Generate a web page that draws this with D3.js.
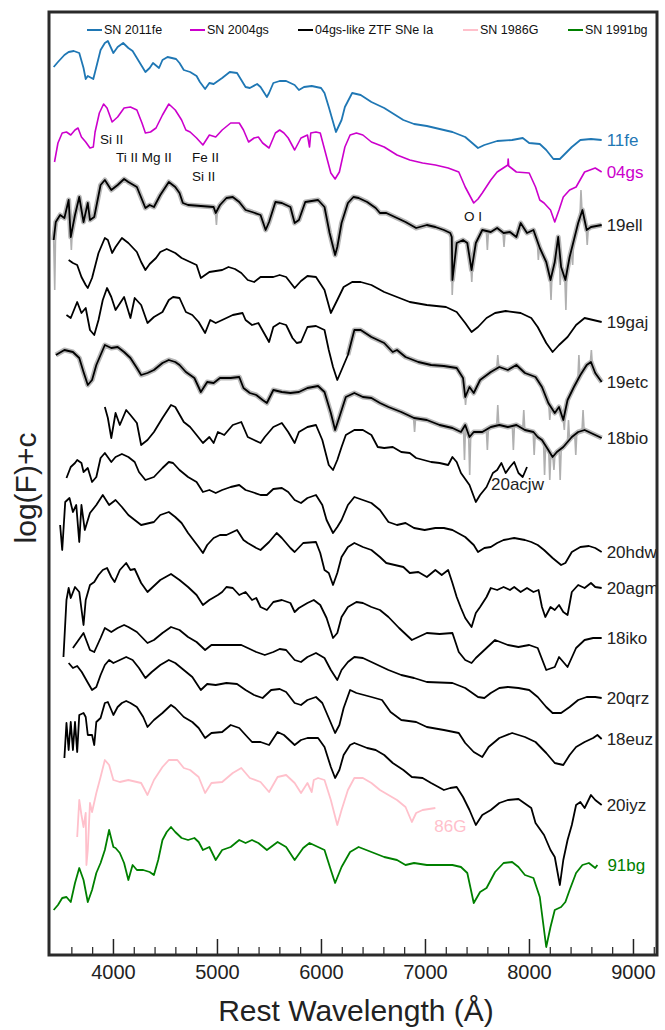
<!DOCTYPE html>
<html>
<head>
<meta charset="utf-8">
<script src="https://cdn.jsdelivr.net/npm/d3@7"></script>
<style>
  body { margin: 0; background: #fff; }
  text { font-family: "Liberation Sans", Arial, sans-serif; }
</style>
</head>
<body>
<svg id="chart" width="665" height="1030"></svg>
<script>
// spectra: [rest wavelength (A), log(F)+c]
const sn2011fe = [[3430,88.8],[3471,89.3],[3533,90.0],[3574,90.3],[3623,90.4],[3676,90.2],[3717,88.7],[3738,87.6],[3758,87.9],[3811,87.6],[3840,88.8],[3881,90.5],[3922,91.2],[3951,91.4],[4004,90.2],[4045,90.8],[4098,91.2],[4148,90.7],[4189,90.4],[4271,89.0],[4312,88.3],[4353,88.7],[4385,89.2],[4443,88.7],[4476,89.5],[4525,89.8],[4607,89.6],[4640,89.2],[4681,88.5],[4742,88.3],[4804,87.9],[4836,87.3],[4886,86.6],[4927,87.2],[4968,87.1],[5050,87.7],[5123,88.3],[5193,88.2],[5234,87.5],[5275,86.8],[5316,86.7],[5386,87.1],[5419,86.8],[5480,85.8],[5501,86.2],[5542,87.2],[5603,87.4],[5665,87.4],[5747,87.0],[5788,86.5],[5837,86.8],[5911,86.9],[6001,86.7],[6034,86.2],[6075,84.8],[6144,82.3],[6198,83.5],[6230,84.8],[6300,86.2],[6382,86.0],[6485,85.3],[6608,84.7],[6792,83.5],[6895,83.1],[7018,82.9],[7264,82.3],[7387,81.8],[7510,80.7],[7571,81.0],[7694,81.4],[7838,81.5],[7940,81.7],[8002,81.2],[8104,81.1],[8166,80.5],[8235,79.6],[8297,79.6],[8412,80.8],[8494,81.5],[8596,81.6],[8699,81.5]];

const sn2004gs = [[3438,79.3],[3471,81.2],[3512,82.2],[3553,82.3],[3594,82.0],[3635,82.5],[3664,82.7],[3697,81.8],[3738,81.3],[3779,80.7],[3811,80.8],[3828,82.3],[3869,84.2],[3910,85.1],[3943,84.7],[3992,83.3],[4045,83.8],[4107,84.7],[4168,84.8],[4230,84.5],[4279,83.2],[4312,82.2],[4361,82.3],[4414,82.7],[4476,84.0],[4537,85.1],[4599,84.5],[4660,83.5],[4701,82.5],[4742,82.3],[4804,81.7],[4865,81.0],[4927,82.0],[4988,81.8],[5050,82.5],[5132,83.2],[5214,83.2],[5255,82.5],[5304,81.3],[5357,81.7],[5398,81.8],[5439,81.2],[5501,80.7],[5562,82.2],[5603,82.5],[5644,82.2],[5685,81.7],[5747,80.5],[5808,81.7],[5870,82.0],[5890,80.8],[5902,82.2],[5952,82.3],[5993,82.2],[6054,79.8],[6095,78.2],[6136,77.6],[6177,78.3],[6230,80.8],[6280,82.0],[6341,82.2],[6403,82.0],[6485,81.3],[6608,80.8],[6731,80.0],[6854,79.5],[6977,79.2],[7100,79.0],[7223,78.7],[7325,78.3],[7387,76.8],[7469,75.2],[7510,75.6],[7551,76.2],[7633,77.5],[7694,78.3],[7797,79.0],[7800,79.6],[7805,78.9],[7879,78.3],[8002,78.2],[8063,76.8],[8104,75.5],[8145,75.2],[8207,74.5],[8248,73.3],[8289,74.5],[8330,75.8],[8391,76.5],[8453,76.8],[8535,78.3],[8637,78.7],[8699,78.3]];

const ztf19ell = [[3430,71.5],[3450,73.3],[3492,74.0],[3533,73.7],[3574,75.5],[3594,71.8],[3635,74.0],[3676,75.8],[3717,73.3],[3758,75.2],[3779,73.5],[3820,73.8],[3881,77.0],[3922,77.5],[3984,76.5],[4045,77.0],[4107,77.6],[4148,77.3],[4230,76.8],[4312,74.7],[4353,75.0],[4394,74.8],[4455,76.0],[4537,77.3],[4599,76.8],[4640,76.2],[4672,75.2],[4722,75.0],[4845,74.9],[4968,74.8],[4988,74.2],[5029,75.0],[5091,75.7],[5152,75.8],[5214,75.3],[5275,74.5],[5337,74.3],[5419,74.0],[5468,72.5],[5501,73.3],[5562,75.3],[5624,75.2],[5706,74.8],[5747,73.2],[5788,73.5],[5849,75.3],[5972,75.5],[6034,74.8],[6083,72.2],[6136,70.0],[6157,70.8],[6198,73.2],[6259,75.2],[6312,75.8],[6362,75.7],[6444,75.3],[6526,74.7],[6567,74.2],[6628,74.2],[6731,73.7],[6813,73.3],[6915,72.7],[7018,73.0],[7100,72.8],[7182,72.5],[7243,72.2],[7258,71.8],[7264,67.5],[7305,71.2],[7366,71.5],[7407,71.2],[7448,68.5],[7489,71.2],[7551,72.5],[7633,72.3],[7694,72.7],[7756,72.2],[7817,72.3],[7879,71.8],[7920,73.2],[7981,72.2],[8043,72.5],[8104,70.7],[8166,69.3],[8207,67.5],[8248,69.3],[8281,71.8],[8309,68.8],[8350,67.5],[8391,69.8],[8432,71.5],[8473,73.2],[8514,74.5],[8555,72.5],[8596,72.8],[8699,73.0]];
// raw-spectrum spikes seen in grey behind the smoothed curve
const ztf19ellSpikes = [[3440,66.5],[3600,70.5],[4995,73.0],[7262,66.0],[7450,67.3],[7600,70.5],[7760,70.8],[8090,69.5],[8212,65.5],[8300,67.0],[8355,64.5],[8420,69.0],[8500,76.5],[8560,71.0]];

const ztf19gaj = [[3574,69.5],[3615,69.2],[3656,69.0],[3697,67.8],[3738,67.0],[3758,66.7],[3799,67.7],[3861,70.2],[3922,71.7],[3951,71.5],[3992,70.2],[4025,70.8],[4086,71.7],[4148,71.2],[4230,70.3],[4271,69.3],[4312,68.5],[4353,69.1],[4414,69.7],[4455,70.3],[4517,70.6],[4599,70.2],[4660,69.7],[4742,69.3],[4804,69.0],[4845,67.7],[4927,68.3],[5050,68.5],[5111,68.8],[5173,68.6],[5234,68.2],[5296,67.5],[5357,67.3],[5419,67.8],[5542,67.8],[5603,68.0],[5665,67.8],[5747,66.7],[5808,67.4],[5870,67.9],[5952,67.8],[6034,66.5],[6095,64.2],[6157,65.5],[6218,66.8],[6300,67.3],[6382,67.3],[6485,67.0],[6608,66.3],[6731,65.8],[6854,65.3],[7018,65.0],[7202,64.8],[7305,64.3],[7387,63.2],[7448,62.3],[7510,62.8],[7592,63.7],[7674,64.2],[7776,64.4],[7920,64.2],[8022,63.7],[8084,62.8],[8166,61.2],[8227,60.3],[8289,61.0],[8371,61.8],[8453,63.0],[8535,63.7],[8617,63.5],[8699,63.3]];

const ztf19etc = [[3553,64.0],[3594,63.7],[3656,65.3],[3697,64.2],[3738,64.7],[3779,62.5],[3820,62.0],[3861,63.5],[3902,65.5],[3943,66.7],[3984,65.8],[4025,64.5],[4107,65.8],[4168,63.7],[4209,65.7],[4271,65.0],[4332,63.2],[4394,63.8],[4476,64.3],[4537,65.5],[4578,65.8],[4640,65.7],[4701,64.3],[4763,64.0],[4824,63.3],[4886,62.2],[4935,63.5],[4988,63.2],[5050,63.5],[5152,64.0],[5246,64.2],[5275,63.5],[5337,63.0],[5398,63.2],[5501,61.3],[5542,62.8],[5603,63.2],[5665,63.0],[5726,61.7],[5767,61.2],[5808,61.3],[5870,62.8],[5952,62.9],[6034,62.5],[6075,60.5],[6116,58.8],[6157,57.5],[6198,58.5],[6259,60.0],[6321,62.5],[6382,62.5],[6485,61.8],[6608,61.2],[6690,60.3],[6731,60.5],[6813,59.8],[6936,59.3],[7059,59.0],[7182,58.9],[7305,58.7],[7366,57.7],[7387,55.8],[7428,56.8],[7469,56.2],[7530,57.5],[7633,58.3],[7715,58.8],[7797,58.5],[7879,59.0],[7961,58.2],[8063,57.8],[8125,56.8],[8186,55.2],[8248,54.2],[8289,54.8],[8330,53.5],[8371,55.5],[8432,56.8],[8494,58.0],[8555,59.0],[8596,59.3],[8637,58.2],[8699,57.3]];
const ztf19etcSpikes = [[7390,55.0],[7700,60.0],[8200,53.5],[8340,52.5],[8480,60.0],[8600,60.5]];

const ztf18bio = [[3451,60.0],[3533,60.5],[3615,60.3],[3676,59.7],[3717,58.3],[3758,57.0],[3799,57.5],[3840,59.0],[3922,61.0],[3984,60.7],[4045,60.8],[4107,60.3],[4168,59.7],[4230,58.7],[4271,58.0],[4332,58.2],[4394,58.5],[4476,59.2],[4537,59.5],[4599,59.3],[4640,59.0],[4701,58.3],[4783,57.7],[4845,56.3],[4906,57.3],[4968,57.2],[5029,57.7],[5132,57.7],[5214,57.8],[5255,56.7],[5316,56.2],[5378,56.0],[5439,55.5],[5480,55.2],[5542,56.5],[5624,56.3],[5706,56.2],[5788,56.3],[5870,56.7],[5972,56.9],[6034,56.3],[6095,54.2],[6136,52.5],[6177,53.8],[6239,55.8],[6321,56.2],[6403,55.8],[6485,55.7],[6567,55.2],[6649,54.8],[6772,54.3],[6895,53.7],[7018,53.5],[7141,53.0],[7264,52.7],[7346,52.3],[7387,53.0],[7428,51.8],[7469,52.3],[7551,52.3],[7633,52.8],[7715,53.0],[7797,52.8],[7879,53.0],[7961,52.5],[8043,52.3],[8084,51.8],[8125,51.5],[8186,50.5],[8227,49.8],[8268,50.3],[8330,50.8],[8412,51.8],[8473,52.3],[8535,52.5],[8596,52.2],[8699,51.7]];
const ztf18bioSpikes = [[6900,52.3],[7380,49.5],[7430,48.0],[7600,50.5],[7700,55.0],[7850,50.5],[7950,54.5],[8050,50.0],[8150,48.0],[8200,47.5],[8240,48.5],[8300,47.5],[8380,53.5],[8450,50.0],[8520,54.5]];

const ztf20acjw = [[3922,54.8],[3951,53.7],[3984,51.7],[4025,54.2],[4066,53.0],[4127,54.5],[4168,54.0],[4230,53.2],[4271,51.0],[4332,51.5],[4394,52.3],[4476,53.7],[4558,55.0],[4599,54.8],[4681,53.3],[4742,52.8],[4804,52.0],[4865,51.2],[4927,51.8],[4968,51.2],[5009,52.3],[5070,52.0],[5152,53.0],[5234,53.3],[5296,51.8],[5357,51.5],[5419,51.2],[5460,51.8],[5542,52.8],[5624,53.2],[5685,52.3],[5747,51.2],[5788,52.3],[5870,52.8],[5952,53.0],[6013,51.5],[6075,49.0],[6116,48.5],[6157,49.5],[6198,50.8],[6239,52.0],[6321,52.5],[6403,52.5],[6485,52.0],[6546,50.8],[6608,50.7],[6690,50.8],[6772,50.3],[6854,50.2],[6915,49.7],[7059,49.3],[7141,49.2],[7223,49.0],[7264,49.8],[7305,49.3],[7346,48.2],[7428,47.0],[7489,45.3],[7530,46.0],[7592,46.8],[7653,48.2],[7694,48.5],[7735,49.2],[7776,48.2],[7817,48.8],[7858,49.3],[7899,48.2],[7940,47.8],[7981,48.8]];

const ztf20hdw = [[3553,47.7],[3594,48.8],[3635,49.2],[3656,49.5],[3697,49.2],[3717,48.3],[3758,48.7],[3799,47.3],[3840,47.8],[3881,49.7],[3922,50.2],[3984,49.3],[4025,49.8],[4086,50.1],[4148,49.8],[4209,49.3],[4250,48.3],[4312,47.5],[4394,47.8],[4476,48.7],[4537,49.3],[4578,49.2],[4640,48.5],[4722,47.8],[4804,47.3],[4865,46.3],[4927,46.5],[4988,46.2],[5050,46.5],[5132,46.8],[5214,47.0],[5275,46.5],[5337,46.3],[5419,46.0],[5480,46.0],[5542,46.6],[5624,46.7],[5685,46.3],[5747,45.5],[5808,45.2],[5870,45.7],[5952,46.0],[6013,45.0],[6054,43.5],[6116,42.2],[6157,42.8],[6198,43.5],[6259,45.0],[6321,45.8],[6403,45.5],[6485,45.2],[6567,44.5],[6649,43.3],[6731,43.0],[6813,43.2],[6895,42.7],[6997,42.5],[7100,42.7],[7182,42.7],[7264,42.5],[7387,41.8],[7469,41.0],[7510,40.3],[7571,40.7],[7633,40.8],[7694,41.2],[7756,41.5],[7858,41.7],[7961,41.5],[8022,41.3],[8084,41.0],[8145,40.5],[8227,39.7],[8309,39.0],[8350,39.2],[8412,40.3],[8494,40.8],[8576,40.9],[8637,40.7],[8699,40.3]];

const ztf20agm = [[3492,43.0],[3512,40.5],[3541,45.3],[3582,45.7],[3615,44.3],[3647,45.0],[3676,41.3],[3697,45.0],[3729,42.5],[3779,44.2],[3840,45.0],[3902,46.0],[3963,45.0],[4025,45.5],[4086,44.8],[4148,44.0],[4209,43.5],[4271,43.0],[4394,43.3],[4455,44.0],[4537,44.3],[4599,43.8],[4660,43.2],[4722,42.2],[4824,40.8],[4865,40.2],[4906,41.0],[4968,41.7],[5029,42.0],[5091,42.0],[5152,42.3],[5193,42.5],[5255,41.5],[5296,41.2],[5378,40.7],[5419,40.5],[5501,41.3],[5574,42.2],[5624,41.7],[5706,40.7],[5747,40.3],[5829,41.2],[5952,41.3],[5993,40.2],[6034,38.5],[6075,38.2],[6116,37.0],[6157,38.2],[6198,39.8],[6259,40.8],[6321,41.2],[6403,40.8],[6485,40.5],[6567,39.8],[6628,39.2],[6710,39.0],[6792,38.8],[6854,38.2],[6936,38.3],[7018,37.8],[7100,38.5],[7161,38.0],[7223,38.5],[7264,37.2],[7305,35.8],[7346,34.7],[7387,33.7],[7448,32.8],[7489,34.2],[7530,34.8],[7592,35.8],[7633,36.7],[7694,36.5],[7756,36.8],[7817,36.5],[7858,36.8],[7920,36.3],[7981,36.7],[8043,36.3],[8092,36.5],[8125,34.8],[8157,33.8],[8207,34.8],[8248,34.5],[8289,35.0],[8330,34.3],[8371,34.0],[8412,36.3],[8473,37.0],[8535,36.7],[8596,37.2],[8637,36.8],[8699,36.7]];

const ztf18iko = [[3524,29.8],[3553,35.5],[3574,36.7],[3594,35.7],[3635,36.8],[3676,36.3],[3717,33.0],[3738,35.5],[3779,37.0],[3820,37.3],[3861,38.0],[3902,38.5],[3943,38.7],[3984,37.8],[4016,37.3],[4066,38.5],[4127,39.2],[4168,38.5],[4209,38.6],[4271,37.2],[4332,36.3],[4373,36.7],[4455,37.5],[4558,38.1],[4640,37.5],[4722,36.8],[4804,36.0],[4865,35.0],[4927,35.5],[5009,36.0],[5050,36.3],[5091,36.8],[5152,36.7],[5214,36.0],[5275,36.3],[5337,35.5],[5378,35.7],[5419,34.8],[5480,34.5],[5542,35.3],[5624,35.5],[5706,35.2],[5747,34.3],[5788,34.7],[5870,35.2],[5931,35.5],[5993,35.0],[6054,33.7],[6116,31.7],[6157,32.2],[6198,33.8],[6259,34.8],[6341,35.3],[6403,35.2],[6485,34.8],[6567,34.5],[6649,33.8],[6751,32.7],[6874,31.5],[7018,32.2],[7141,32.1],[7264,32.2],[7325,30.3],[7387,29.5],[7448,29.2],[7489,29.7],[7571,30.5],[7674,31.5],[7797,31.0],[7899,30.8],[8002,31.0],[8084,30.7],[8166,28.5],[8248,28.8],[8289,29.8],[8371,28.8],[8453,30.7],[8535,31.5],[8617,31.7],[8699,31.7]];

const ztf20qrz = [[3615,30.7],[3656,31.3],[3717,32.2],[3779,30.5],[3820,30.3],[3881,31.7],[3922,32.7],[3984,32.3],[4045,32.7],[4107,33.0],[4148,32.8],[4230,32.3],[4332,31.2],[4394,31.5],[4476,32.2],[4558,32.8],[4640,32.5],[4722,31.8],[4804,31.3],[4886,30.5],[4947,31.0],[5050,31.0],[5152,31.0],[5234,31.0],[5296,30.7],[5378,30.3],[5460,30.0],[5542,30.3],[5603,30.6],[5665,30.5],[5747,29.5],[5808,29.3],[5870,29.8],[5952,30.2],[6034,29.7],[6095,28.5],[6157,27.5],[6198,28.5],[6259,29.3],[6321,29.8],[6403,29.7],[6485,29.3],[6587,28.8],[6649,28.5],[6772,28.0],[6895,27.7],[7018,27.3],[7264,27.2],[7387,26.7],[7510,25.8],[7571,25.7],[7633,26.2],[7715,26.7],[7797,26.8],[7899,26.7],[8002,26.5],[8084,25.8],[8166,24.8],[8227,24.2],[8309,24.2],[8391,24.8],[8473,25.5],[8555,25.8],[8637,25.8],[8699,25.7]];

const ztf18euz = [[3574,29.2],[3615,28.7],[3656,28.9],[3700,28.3],[3760,27.2],[3799,26.5],[3840,26.8],[3881,28.0],[3922,29.0],[3963,29.5],[4004,29.2],[4066,29.5],[4127,29.8],[4189,29.5],[4250,28.7],[4312,27.7],[4373,28.3],[4455,29.0],[4537,29.5],[4599,29.2],[4681,28.5],[4763,27.8],[4845,26.5],[4906,27.1],[4988,27.0],[5091,27.2],[5193,27.1],[5275,26.5],[5357,26.0],[5439,25.7],[5521,26.5],[5603,26.6],[5665,26.3],[5747,25.2],[5808,25.0],[5870,25.5],[5952,25.8],[6013,25.2],[6075,23.7],[6136,22.2],[6177,23.0],[6218,24.7],[6280,26.5],[6341,26.2],[6485,25.8],[6587,25.5],[6669,24.3],[6772,23.5],[6915,23.3],[7018,22.8],[7182,22.5],[7325,22.2],[7387,21.2],[7469,20.3],[7551,19.8],[7612,20.8],[7715,21.7],[7838,22.2],[7961,21.8],[8063,21.3],[8166,20.2],[8248,19.2],[8330,19.0],[8391,20.0],[8453,20.8],[8535,21.3],[8617,21.7],[8658,22.0],[8699,21.6]];

const ztf20iyz = [[3533,19.7],[3553,23.2],[3574,20.5],[3594,23.3],[3615,20.5],[3635,23.3],[3656,20.3],[3676,24.0],[3717,24.2],[3738,23.8],[3758,22.0],[3799,22.0],[3820,21.0],[3840,23.3],[3881,23.7],[3922,25.2],[3951,25.3],[3984,24.5],[4004,24.0],[4045,24.8],[4086,25.2],[4127,25.4],[4168,25.2],[4230,24.8],[4291,23.8],[4332,22.8],[4394,23.5],[4476,24.2],[4558,25.0],[4599,24.7],[4681,23.8],[4763,23.3],[4824,22.7],[4886,21.7],[4947,22.2],[5050,22.3],[5132,23.0],[5214,22.7],[5275,22.0],[5337,21.3],[5419,21.3],[5501,21.0],[5583,22.3],[5644,22.0],[5747,21.0],[5808,21.5],[5870,21.7],[5972,21.7],[6034,20.8],[6095,18.8],[6136,17.7],[6177,18.5],[6218,20.0],[6280,21.0],[6321,21.2],[6444,20.7],[6526,20.5],[6608,20.0],[6690,19.2],[6792,18.5],[6874,17.8],[6977,17.7],[7059,17.2],[7182,16.5],[7243,16.7],[7305,16.8],[7366,15.8],[7428,14.5],[7489,13.0],[7551,14.0],[7633,14.5],[7715,15.2],[7797,15.5],[7899,15.6],[7981,15.0],[8022,14.7],[8063,13.2],[8145,12.0],[8207,10.5],[8248,9.8],[8297,7.0],[8330,9.5],[8371,11.5],[8412,13.0],[8453,15.0],[8494,15.3],[8535,14.7],[8596,16.0],[8637,15.5],[8699,15.0]];

const sn1986G = [[3656,11.8],[3676,15.5],[3697,14.0],[3717,12.8],[3738,14.2],[3745,9.0],[3758,10.5],[3779,15.2],[3799,14.3],[3840,16.2],[3881,17.8],[3922,19.5],[3963,19.0],[4004,17.5],[4066,17.3],[4148,17.5],[4271,17.2],[4332,16.0],[4394,17.5],[4476,18.8],[4537,19.5],[4619,19.5],[4681,18.7],[4742,18.5],[4824,17.8],[4886,16.2],[4947,17.2],[5050,17.3],[5152,18.2],[5234,18.7],[5316,17.7],[5419,17.3],[5501,16.3],[5583,17.8],[5665,18.0],[5747,17.2],[5808,16.2],[5870,17.2],[5911,16.3],[5931,17.5],[5972,17.7],[6034,17.5],[6095,15.5],[6157,13.0],[6198,14.5],[6259,16.5],[6321,17.7],[6403,17.7],[6485,17.2],[6567,16.5],[6649,16.0],[6731,15.5],[6813,14.8],[6874,13.3],[6915,14.2],[6977,14.5],[7100,14.7]];

const sn1991bg = [[3430,4.5],[3471,5.0],[3512,5.7],[3553,5.8],[3594,5.3],[3635,7.2],[3676,8.7],[3717,7.5],[3758,5.3],[3799,6.5],[3840,8.2],[3881,9.2],[3922,10.5],[3963,12.5],[4004,10.8],[4025,10.7],[4066,10.2],[4107,9.2],[4148,7.5],[4189,9.0],[4230,8.5],[4291,8.5],[4353,8.3],[4394,8.0],[4435,9.5],[4476,11.5],[4517,12.3],[4558,12.8],[4599,12.3],[4660,11.7],[4722,11.5],[4783,11.7],[4824,11.3],[4865,10.5],[4927,10.8],[4988,9.5],[5050,10.5],[5132,10.8],[5214,11.5],[5275,11.2],[5337,11.5],[5398,11.2],[5480,10.5],[5583,11.3],[5665,10.8],[5747,9.5],[5829,10.7],[5890,11.2],[5972,10.8],[6034,10.5],[6095,8.5],[6136,7.2],[6198,8.8],[6280,10.3],[6362,10.8],[6485,10.3],[6608,9.8],[6731,9.5],[6813,9.0],[6895,9.2],[7018,9.0],[7141,9.0],[7264,9.0],[7346,8.8],[7407,8.2],[7469,5.2],[7530,6.3],[7592,6.7],[7674,8.3],[7756,9.2],[7838,9.3],[7899,8.8],[7961,8.0],[8043,7.7],[8104,5.8],[8166,0.8],[8207,2.8],[8248,4.5],[8309,4.8],[8350,5.3],[8391,6.5],[8453,8.2],[8514,9.0],[8576,9.2],[8637,8.7],[8658,9.0]];

const xMajorTicks = [4000, 5000, 6000, 7000, 8000, 9000];
const xMinorTicks = d3.range(3600, 9201, 200).filter(d => d % 1000 !== 0);

const legendItems = [
  {name: 'SN 2011fe', color: '#1f77b4'},
  {name: 'SN 2004gs', color: '#cc00cc'},
  {name: '04gs-like ZTF SNe Ia', color: '#000'},
  {name: 'SN 1986G', color: '#ffc0cb'},
  {name: 'SN 1991bg', color: '#008000'}
];

const lineIds = [
  {text: 'Si II', w: 3876, v: 81.6},
  {text: 'Ti II Mg II', w: 4030, v: 79.8},
  {text: 'Fe II', w: 4760, v: 79.8},
  {text: 'Si II', w: 4760, v: 77.9},
  {text: 'O I', w: 7375, v: 73.9}
];

const spectra = [
  {label: '11fe', data: sn2011fe, color: '#1f77b4'},
  {label: '04gs', data: sn2004gs, color: '#cc00cc', width: 1.6},
  {label: '19ell', data: ztf19ell, color: '#000', noisyFrom: 0, spikes: ztf19ellSpikes},
  {label: '19gaj', data: ztf19gaj, color: '#000'},
  {label: '19etc', data: ztf19etc, color: '#000', noisyFrom: 6250, spikes: ztf19etcSpikes},
  {label: '18bio', data: ztf18bio, color: '#000', noisyFrom: 0, spikes: ztf18bioSpikes},
  {label: '20acjw', data: ztf20acjw, color: '#000', dx: -36, dy: 17},
  {label: '20hdw', data: ztf20hdw, color: '#000'},
  {label: '20agm', data: ztf20agm, color: '#000'},
  {label: '18iko', data: ztf18iko, color: '#000'},
  {label: '20qrz', data: ztf20qrz, color: '#000'},
  {label: '18euz', data: ztf18euz, color: '#000'},
  {label: '20iyz', data: ztf20iyz, color: '#000'},
  {label: '86G', data: sn1986G, color: '#ffc0cb', dx: -1, dy: 18},
  {label: '91bg', data: sn1991bg, color: '#008000', dx: 10}
];

const svg = d3.select('#chart');
const plot = {left: 49, right: 657, top: 12, bottom: 955};

const x = d3.scaleLinear().domain([3385, 9231]).range([plot.left, plot.right]);
const y = d3.scaleLinear().domain([0, 95.5]).range([plot.bottom, 0]);

svg.append('rect').attr('width', 665).attr('height', 1030).attr('fill', '#fff');

svg.append('clipPath').attr('id', 'clip')
  .append('rect')
  .attr('x', plot.left).attr('y', plot.top)
  .attr('width', plot.right - plot.left).attr('height', plot.bottom - plot.top);

const line = d3.line().x(d => x(d[0])).y(d => y(d[1]));
const bisect = d3.bisector(d => d[0]).left;

// value of a spectrum at wavelength w, interpolated between its points
const valueAt = (data, w) => {
  const i = Math.min(Math.max(bisect(data, w), 1), data.length - 1);
  const a = data[i - 1], b = data[i];
  return d3.interpolateNumber(a[1], b[1])((w - a[0]) / (b[0] - a[0]));
};

const g = svg.append('g').attr('clip-path', 'url(#clip)');

spectra.forEach(s => {
  if (s.noisyFrom !== undefined) {
    const grey = g.append('g');
    grey.append('path').datum(s.data.filter(d => d[0] >= s.noisyFrom))
      .attr('fill', 'none')
      .attr('stroke', '#b8b8b8')
      .attr('stroke-width', 5)
      .attr('stroke-linejoin', 'round')
      .attr('d', line);
    // narrow spikes of the raw spectrum
    grey.selectAll('path.spike')
      .data(s.spikes || [])
      .join('path')
      .attr('class', 'spike')
      .attr('fill', 'none')
      .attr('stroke', '#b0b0b0')
      .attr('stroke-width', 1.6)
      .attr('d', d => line([[d[0] - 10, valueAt(s.data, d[0] - 10)], d, [d[0] + 10, valueAt(s.data, d[0] + 10)]]));
  }
  g.append('path').datum(s.data)
    .attr('fill', 'none')
    .attr('stroke', s.color)
    .attr('stroke-width', s.width || 1.8)
    .attr('stroke-linejoin', 'round')
    .attr('d', line);

  const last = s.data[s.data.length - 1];
  svg.append('text')
    .attr('x', x(last[0]) + (s.dx !== undefined ? s.dx : 5))
    .attr('y', y(last[1]) + (s.dy || 0))
    .attr('dy', '0.35em')
    .attr('font-size', 17)
    .attr('fill', s.color === '#000' ? '#222' : s.color)
    .text(s.label);
});

// line identifications
lineIds.forEach(d => {
  svg.append('text')
    .attr('x', x(d.w)).attr('y', y(d.v))
    .attr('dy', '0.35em')
    .attr('font-size', 13.5)
    .attr('fill', '#111')
    .text(d.text);
});

// axes
const axisG = svg.append('g').attr('transform', `translate(0,${plot.bottom})`);
axisG.call(d3.axisBottom(x).tickValues(xMajorTicks).tickSize(-16).tickPadding(10).tickFormat(d3.format('d')));
axisG.selectAll('.tick line').attr('stroke', '#222').attr('stroke-width', 1.5);
axisG.selectAll('.tick text').attr('font-size', 20).attr('fill', '#222')
  .attr('font-family', '"Liberation Sans", Arial, sans-serif');
axisG.select('.domain').remove();

const minorG = svg.append('g').attr('transform', `translate(0,${plot.bottom})`);
minorG.call(d3.axisBottom(x).tickValues(xMinorTicks).tickSize(-8).tickFormat(''));
minorG.selectAll('.tick line').attr('stroke', '#222').attr('stroke-width', 1.2);
minorG.select('.domain').remove();

svg.append('rect')
  .attr('x', plot.left).attr('y', plot.top)
  .attr('width', plot.right - plot.left).attr('height', plot.bottom - plot.top)
  .attr('fill', 'none').attr('stroke', '#2a2a2a').attr('stroke-width', 3);

svg.append('text')
  .attr('x', 356).attr('y', 1021)
  .attr('text-anchor', 'middle').attr('font-size', 30).attr('fill', '#222')
  .text('Rest Wavelength (Å)');

svg.append('text')
  .attr('transform', 'translate(36,488) rotate(-90)')
  .attr('text-anchor', 'middle').attr('font-size', 30).attr('fill', '#222')
  .text('log(F)+c');

// legend
const legendX = [87, 190, 298, 463, 568];
const legend = svg.append('g');
legendItems.forEach((d, i) => {
  const lg = legend.append('g').attr('transform', `translate(${legendX[i]},30)`);
  lg.append('line').attr('x1', 0).attr('x2', 15).attr('y1', 0).attr('y2', 0)
    .attr('stroke', d.color).attr('stroke-width', 2);
  lg.append('text').attr('x', 17).attr('y', 0).attr('dy', '0.35em')
    .attr('font-size', 12.5).attr('fill', '#111').text(d.name);
});
</script>
</body>
</html>
